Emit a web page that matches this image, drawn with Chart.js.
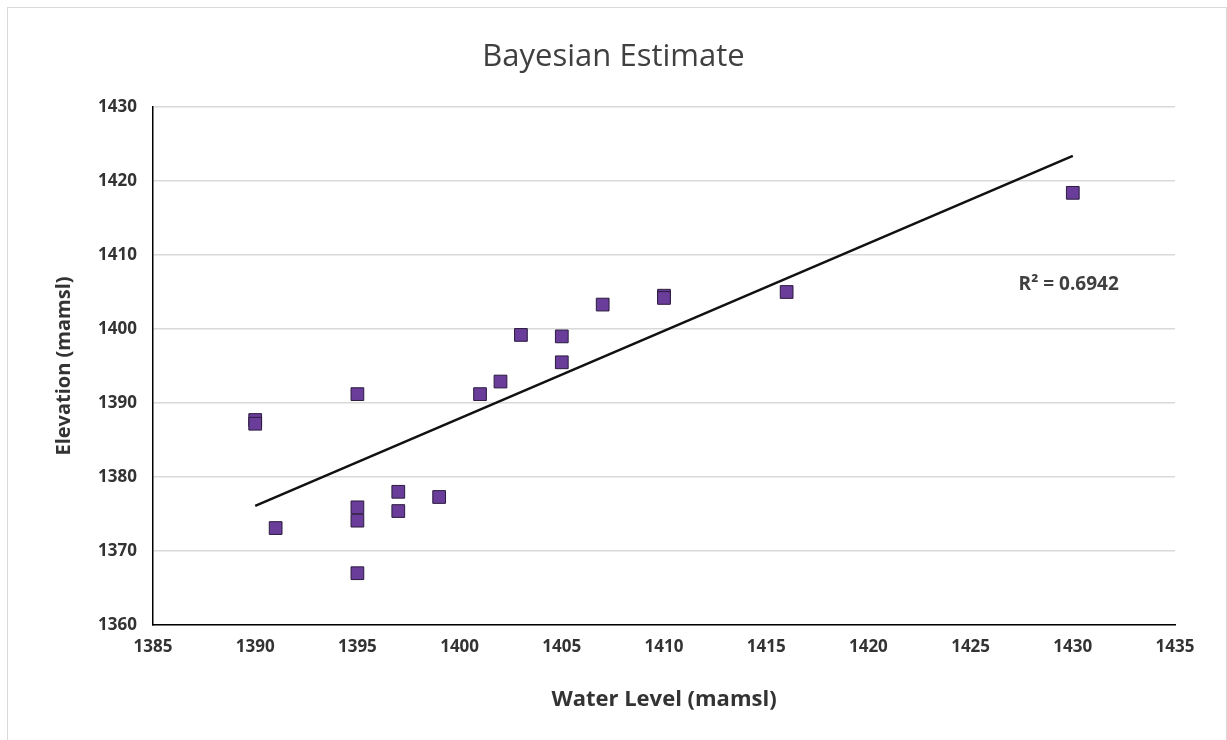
<!DOCTYPE html>
<html>
<head>
<meta charset="utf-8">
<script src="https://cdn.jsdelivr.net/npm/chart.js@4"></script>
<style>
  html, body { margin: 0; padding: 0; background: #fff; }
  #wrap { width: 1227px; height: 740px; }
</style>
</head>
<body>
<div id="wrap"><canvas id="myChart"></canvas></div>
<script>
// data
var waterLevel = [1390, 1390, 1391, 1395, 1395, 1395, 1395, 1397, 1397, 1399, 1401, 1402, 1403, 1405, 1405, 1407, 1410, 1410, 1416, 1430];
var elevation = [1387.7, 1387.2, 1373.1, 1391.2, 1375.9, 1374.1, 1367.0, 1378.0, 1375.4, 1377.3, 1391.2, 1392.9, 1399.2, 1399.0, 1395.5, 1403.3, 1404.5, 1404.2, 1405.0, 1418.4];
// trend line ends
var trendX = [1390, 1430];
var trendY = [1376.1, 1423.4];
var xTicks = [1385, 1390, 1395, 1400, 1405, 1410, 1415, 1420, 1425, 1430, 1435];
var yTicks = [1360, 1370, 1380, 1390, 1400, 1410, 1420, 1430];
var r2Text = 'R\u00B2 = 0.6942';
var r2Pos = [1429.8, 1406.0];

var FONT = "'Open Sans', sans-serif";

var points = waterLevel.map(function (x, i) { return { x: x, y: elevation[i] }; });
var trend = trendX.map(function (x, i) { return { x: x, y: trendY[i] }; });

function plainTick(v) { return String(v); }

// frame around the chart + R² text
var extras = {
    id: 'extras',
    beforeDraw: function (chart) {
        var ctx = chart.ctx;
        ctx.save();
        ctx.fillStyle = '#fff';
        ctx.fillRect(0, 0, chart.width, chart.height);
        ctx.strokeStyle = '#d9d9d9';
        ctx.lineWidth = 1;
        ctx.strokeRect(7.5, 7.5, 1219, 760);
        ctx.restore();
    },
    afterDatasetsDraw: function (chart) {
        var ctx = chart.ctx;
        var xs = chart.scales.x, ys = chart.scales.y;
        ctx.save();
        ctx.font = 'bold 19px ' + FONT;
        ctx.fillStyle = '#404040';
        ctx.textAlign = 'center';
        ctx.textBaseline = 'middle';
        ctx.fillText(r2Text, xs.getPixelForValue(r2Pos[0]), ys.getPixelForValue(r2Pos[1]));
        ctx.restore();
    }
};

var ctx = document.getElementById('myChart').getContext('2d');
var myChart = new Chart(ctx, {
    type: 'scatter',
    data: {
        datasets: [{
            type: 'line',
            label: 'Trend',
            data: trend,
            borderColor: '#111',
            borderWidth: 2.5,
            pointRadius: 0,
            fill: false,
            order: 0
        }, {
            label: 'Elevation',
            data: points,
            pointStyle: 'rect',
            pointRadius: 9,
            backgroundColor: '#6a3d9a',
            borderColor: '#2b1b3f',
            borderWidth: 1,
            order: 1
        }]
    },
    options: {
        responsive: true,
        maintainAspectRatio: false,
        animation: false,
        layout: { padding: 0 },
        plugins: {
            legend: { display: false },
            tooltip: { enabled: false },
            title: {
                display: true,
                text: 'Bayesian Estimate',
                color: '#404040',
                font: { family: FONT, size: 31, weight: 'normal', lineHeight: 1.2 },
                padding: { top: 39, bottom: 30.8 }
            }
        },
        scales: {
            x: {
                type: 'linear',
                min: 1385,
                max: 1435,
                afterBuildTicks: function (scale) {
                    scale.ticks = xTicks.map(function (v) { return { value: v }; });
                },
                afterFit: function (scale) { scale.height = 115; },
                grid: { display: false, drawTicks: false },
                border: { display: true, color: '#000', width: 1.5 },
                ticks: {
                    color: '#333',
                    padding: 12,
                    maxRotation: 0,
                    callback: plainTick,
                    font: { family: FONT, size: 17, weight: 'bold' }
                },
                title: {
                    display: true,
                    text: 'Water Level (mamsl)',
                    color: '#333',
                    font: { family: FONT, size: 22, weight: 'bold', lineHeight: 1.2 },
                    padding: { top: 27, bottom: 27 }
                }
            },
            y: {
                type: 'linear',
                min: 1360,
                max: 1430,
                afterBuildTicks: function (scale) {
                    scale.ticks = yTicks.map(function (v) { return { value: v }; });
                },
                afterFit: function (scale) { scale.width = 153; },
                grid: { color: '#d9d9d9', lineWidth: 1.5, drawTicks: false },
                border: { display: true, color: '#000', width: 1.5 },
                ticks: {
                    color: '#333',
                    padding: 16,
                    callback: plainTick,
                    font: { family: FONT, size: 17, weight: 'bold' }
                },
                title: {
                    display: true,
                    text: 'Elevation (mamsl)',
                    color: '#333',
                    font: { family: FONT, size: 20, weight: 'bold', lineHeight: 1.2 },
                    padding: { top: 52, bottom: 52 }
                }
            },
            // empty right axis, only keeps the plot off the right edge
            yRight: {
                type: 'linear',
                position: 'right',
                min: 1360,
                max: 1430,
                afterFit: function (scale) { scale.width = 52; },
                grid: { display: false, drawTicks: false },
                border: { display: false },
                ticks: { display: false }
            }
        }
    },
    plugins: [extras]
});
</script>
</body>
</html>
